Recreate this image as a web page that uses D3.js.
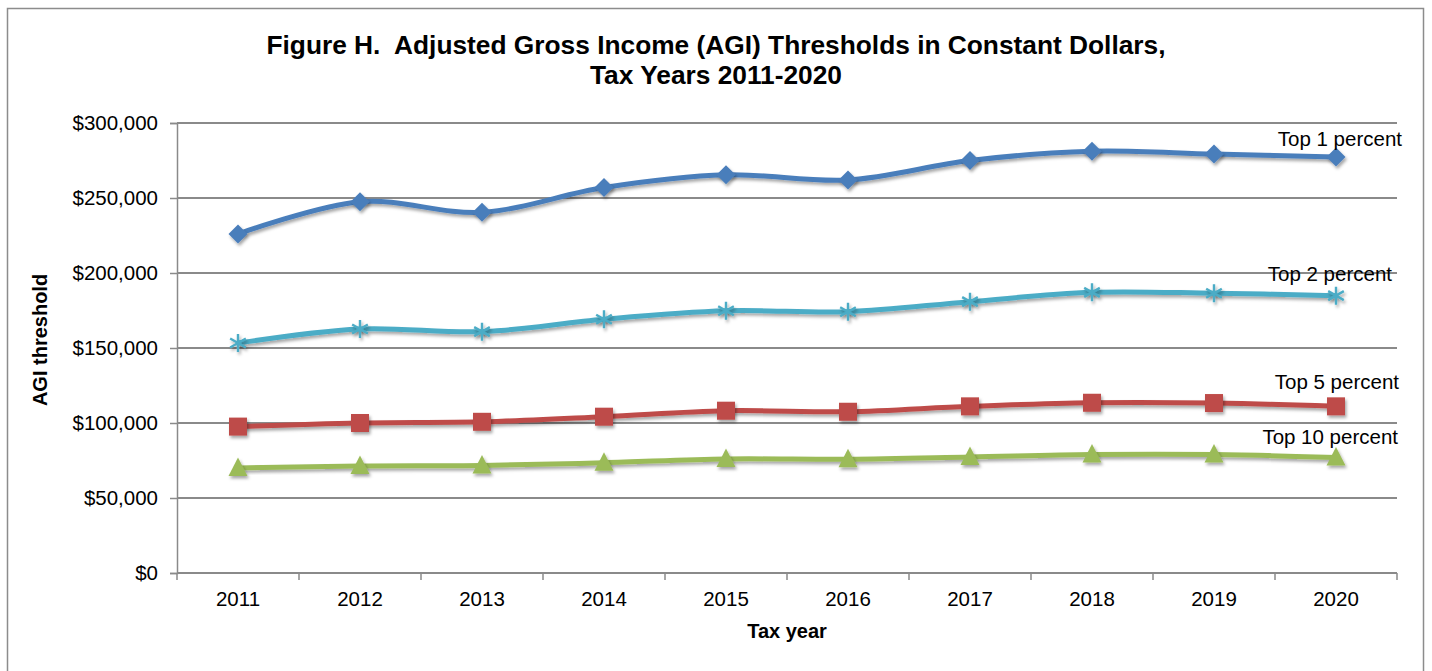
<!DOCTYPE html>
<html><head><meta charset="utf-8">
<script src="https://cdn.jsdelivr.net/npm/d3@7"></script>
<style>
html,body{margin:0;padding:0;background:#fff;}
svg{display:block;font-family:"Liberation Sans",Arial,sans-serif;}
</style></head><body>
<svg id="chart" width="1432" height="671"></svg>
<script>
const years = [2011,2012,2013,2014,2015,2016,2017,2018,2019,2020];
const top1  = [226000,247500,240500,257000,265500,262000,275000,281200,279300,277300];
const top2  = [153300,162700,160900,169200,174800,174200,180900,187100,186500,184900];
const top5  = [97600,100000,100800,104200,108200,107500,111100,113500,113300,111100];
const top10 = [70000,71300,71700,73500,76000,75800,77300,79000,79000,77000];
const seriesNames = ["Top 1 percent","Top 2 percent","Top 5 percent","Top 10 percent"];
const yTicks = [0,50000,100000,150000,200000,250000,300000];
const titleLines = ["Figure H.  Adjusted Gross Income (AGI) Thresholds in Constant Dollars,","Tax Years 2011-2020"];

const series = [
  {name:seriesNames[0], values:top1,  color:"#4a7ebb", marker:"diamond", lx:1402, ldy:-11},
  {name:seriesNames[1], values:top2,  color:"#4bacc6", marker:"star",    lx:1392, ldy:-15},
  {name:seriesNames[2], values:top5,  color:"#be4b48", marker:"square",  lx:1399, ldy:-17},
  {name:seriesNames[3], values:top10, color:"#9bbb59", marker:"triangle",lx:1398, ldy:-13.5}
];

const svg = d3.select("#chart");
const m = {left:177, right:1397, top:123, bottom:573};
const FS = 20.5;

const defs = svg.append("defs");
const f = defs.append("filter").attr("id","shadow").attr("x","-50%").attr("y","-50%").attr("width","200%").attr("height","200%");
f.append("feDropShadow").attr("dx",1.5).attr("dy",2.5).attr("stdDeviation",1.6).attr("flood-color","#000").attr("flood-opacity",0.35);

// outer frame
svg.append("rect").attr("x",7.5).attr("y",8.5).attr("width",1416).attr("height",680)
  .attr("fill","#fff").attr("stroke","#8c8c8c").attr("stroke-width",1.5);

// title
titleLines.forEach((t,i)=>{
  svg.append("text").attr("x",716).attr("y",54+i*30).attr("text-anchor","middle")
    .attr("font-size",26.3).attr("font-weight","bold").attr("fill","#000")
    .style("white-space","pre").text(t);
});

const x = d3.scaleBand().domain(years).range([m.left,m.right]);
const y = d3.scaleLinear().domain([0,300000]).range([m.bottom,m.top]);

// gridlines
svg.append("g").selectAll("line").data(yTicks.filter(d=>d>0)).join("line")
  .attr("x1",m.left).attr("x2",m.right).attr("y1",d=>y(d)).attr("y2",d=>y(d))
  .attr("stroke","#8a8a8a").attr("stroke-width",2);

// y axis
const yAxis = d3.axisLeft(y).tickValues(yTicks).tickSize(7).tickPadding(12)
  .tickFormat(d=>"$"+d3.format(",")(d));
const gy = svg.append("g").attr("transform",`translate(${m.left},0)`).call(yAxis);
gy.select(".domain").attr("stroke","#8a8a8a").attr("stroke-width",1.5);
gy.selectAll(".tick line").attr("stroke","#8a8a8a").attr("stroke-width",1.5);
gy.selectAll(".tick text").attr("font-size",FS).attr("fill","#000").attr("font-family","Liberation Sans, Arial, sans-serif");

// x axis
const xAxis = d3.axisBottom(x).tickSize(0).tickPadding(0);
const gx = svg.append("g").attr("transform",`translate(0,${m.bottom})`).call(xAxis);
gx.select(".domain").remove();
gx.selectAll(".tick text").attr("dy",null).attr("y",33).attr("font-size",FS).attr("fill","#000").attr("font-family","Liberation Sans, Arial, sans-serif");
svg.append("line").attr("x1",m.left).attr("x2",m.right).attr("y1",m.bottom).attr("y2",m.bottom)
  .attr("stroke","#8a8a8a").attr("stroke-width",2);
const bounds = years.map(d=>x(d)).concat([m.right]);
svg.append("g").selectAll("line").data(bounds).join("line")
  .attr("x1",d=>d).attr("x2",d=>d).attr("y1",m.bottom).attr("y2",m.bottom+7)
  .attr("stroke","#8a8a8a").attr("stroke-width",1.5);

// axis titles
svg.append("text").attr("x",787).attr("y",638).attr("text-anchor","middle")
  .attr("font-size",20).attr("font-weight","bold").text("Tax year");
svg.append("text").attr("transform","translate(46.5,340) rotate(-90)").attr("text-anchor","middle")
  .attr("font-size",20).attr("font-weight","bold").text("AGI threshold");

const cx = d => x(d)+x.bandwidth()/2;
const line = d3.line().x((d,i)=>cx(years[i])).y(d=>y(d)).curve(d3.curveCatmullRom.alpha(0.5));

const plot = svg.append("g");
series.forEach(s=>{
  plot.append("path").datum(s.values).attr("d",line)
    .attr("fill","none").attr("stroke",s.color).attr("stroke-width",5)
    .attr("stroke-linejoin","round").attr("filter","url(#shadow)");
});
series.forEach(s=>{
  const g = plot.append("g").attr("filter","url(#shadow)");
  s.values.forEach((v,i)=>{
    const px=cx(years[i]), py=y(v);
    if(s.marker==="diamond"){
      g.append("path").attr("d",`M${px},${py-9.5}L${px+9.5},${py}L${px},${py+9.5}L${px-9.5},${py}Z`).attr("fill",s.color);
    } else if(s.marker==="square"){
      g.append("rect").attr("x",px-9).attr("y",py-9).attr("width",18).attr("height",18).attr("fill",s.color);
    } else if(s.marker==="triangle"){
      g.append("path").attr("d",`M${px},${py-10.5}L${px+9.5},${py+8}L${px-9.5},${py+8}Z`).attr("fill",s.color);
    } else if(s.marker==="star"){
      const r=9;
      g.append("path").attr("d",
        `M${px},${py-r}L${px},${py+r}M${px-r*0.87},${py-r*0.5}L${px+r*0.87},${py+r*0.5}M${px-r*0.87},${py+r*0.5}L${px+r*0.87},${py-r*0.5}`)
        .attr("stroke",s.color).attr("stroke-width",2.4).attr("fill","none");
    }
  });
  const last = s.values[s.values.length-1];
  svg.append("text").attr("x",s.lx).attr("y",y(last)+s.ldy).attr("text-anchor","end")
    .attr("font-size",FS).attr("fill","#000").text(s.name);
});
</script>
</body></html>
